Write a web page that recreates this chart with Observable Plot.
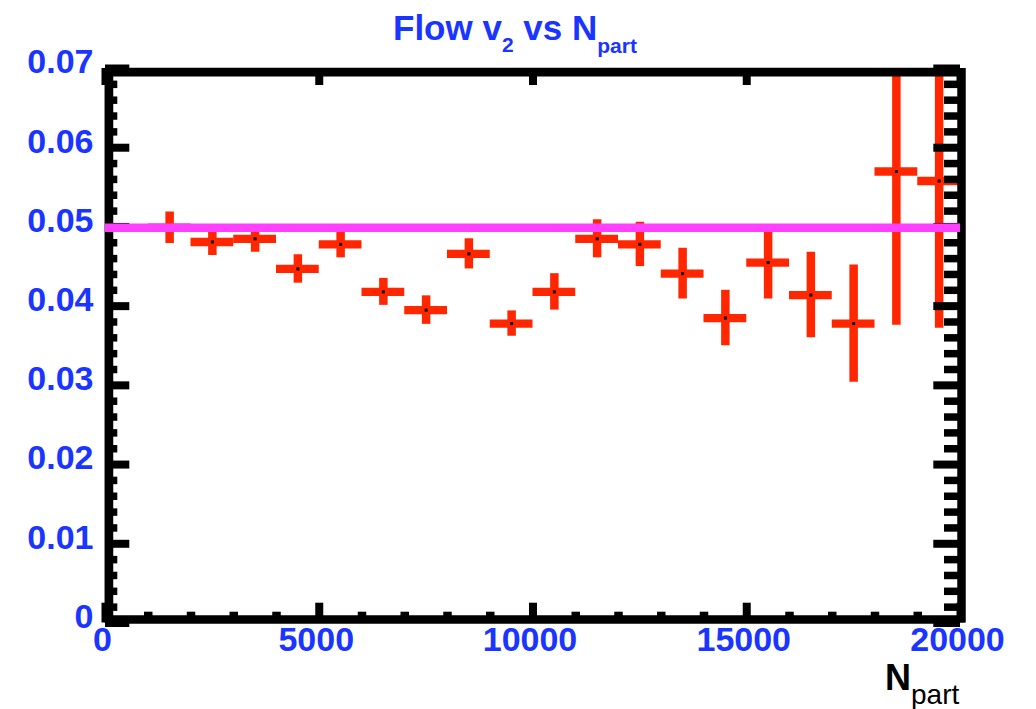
<!DOCTYPE html>
<html>
<head>
<meta charset="utf-8">
<script src="https://cdn.jsdelivr.net/npm/d3@7"></script>
<script src="https://cdn.jsdelivr.net/npm/@observablehq/plot@0.6"></script>
<style>
  body { margin: 0; background: #fff; }
  #chart svg { display: block; }
</style>
</head>
<body>
<div id="chart"></div>
<script>
// ---- data ----
const binCenters = [1500, 2500, 3500, 4500, 5500, 6500, 7500, 8500, 9500, 10500,
                    11500, 12500, 13500, 14500, 15500, 16500, 17500, 18500, 19500];
const v2Values   = [0.0499, 0.0481, 0.0485, 0.0447, 0.0478, 0.0418, 0.0395, 0.0466, 0.0378, 0.0418,
                    0.0485, 0.0478, 0.0441, 0.0385, 0.0455, 0.0414, 0.0378, 0.0570, 0.0558];
const v2Errors   = [0.0020, 0.0017, 0.0017, 0.0018, 0.0017, 0.0017, 0.0018, 0.0019, 0.0016, 0.0023,
                    0.0024, 0.0028, 0.0032, 0.0035, 0.0046, 0.0054, 0.0074, 0.0194, 0.0186];
const binHalfWidths = [500, 500, 500, 500, 500, 500, 500, 500, 500, 500,
                       500, 500, 500, 500, 500, 500, 500, 500, 500];
const fitLevel = [0.0499];

const xTickValues = [0, 5000, 10000, 15000, 20000];
const xTickLabels = ["0", "5000", "10000", "15000", "20000"];
const xMinorTicks = [1000, 2000, 3000, 4000, 6000, 7000, 8000, 9000, 11000, 12000, 13000, 14000,
                     16000, 17000, 18000, 19000];
const yTickValues = [0, 0.01, 0.02, 0.03, 0.04, 0.05, 0.06, 0.07];
const yTickLabels = ["0", "0.01", "0.02", "0.03", "0.04", "0.05", "0.06", "0.07"];
const yMinorTicks = [0.002, 0.004, 0.006, 0.008, 0.012, 0.014, 0.016, 0.018, 0.022, 0.024, 0.026, 0.028,
                     0.032, 0.034, 0.036, 0.038, 0.042, 0.044, 0.046, 0.048, 0.052, 0.054, 0.056, 0.058,
                     0.062, 0.064, 0.066, 0.068];

const titleMain = ["Flow v", "2", " vs N", "part"];
const xLabelParts = ["N", "part"];

// ---- layout ----
const W = 1036, H = 709;
const mL = 105, mR = 76, mT = 68, mB = 86.5;
const FW = W - mL - mR, FH = H - mT - mB;
const BLUE = "#1a35ff", RED = "#ff2600", MAGENTA = "#ff40ff";

const points = binCenters.map((c, i) => ({
  x: c, y: v2Values[i], lo: v2Values[i] - v2Errors[i], hi: v2Values[i] + v2Errors[i],
  x1: c - binHalfWidths[i], x2: c + binHalfWidths[i]
}));
const xTicks = xTickValues.map((v, i) => ({v, label: xTickLabels[i]}));
const yTicks = yTickValues.map((v, i) => ({v, label: yTickLabels[i]}));

const fontBase = {fontFamily: "Liberation Sans, Arial, sans-serif", fontWeight: "bold", fontSize: 34, fill: BLUE};

const chart = Plot.plot({
  width: W, height: H,
  marginLeft: mL, marginRight: mR, marginTop: mT, marginBottom: mB,
  x: {domain: [0, 20000], axis: null},
  y: {domain: [0, 0.07], axis: null},
  style: {background: "#fff", overflow: "visible"},
  marks: [
    // error bars
    Plot.ruleX(points, {x: "x", y1: "lo", y2: "hi", stroke: RED, strokeWidth: 8.5, clip: true}),
    Plot.ruleY(points, {y: "y", x1: "x1", x2: "x2", stroke: RED, strokeWidth: 8.3, clip: true}),
    Plot.dot(points, {x: "x", y: "y", symbol: "square", r: 1.7, fill: "#000", stroke: null}),
    // ticks: left
    Plot.tickY(yMinorTicks, {y: d => d, stroke: "#000", strokeWidth: 7.5, insetRight: FW - 12.3}),
    Plot.tickY(yTickValues, {y: d => d, stroke: "#000", strokeWidth: 8, insetRight: FW - 24.3}),
    // ticks: right
    Plot.tickY(yMinorTicks, {y: d => d, stroke: "#000", strokeWidth: 7.5, insetLeft: FW - 16}),
    Plot.tickY(yTickValues, {y: d => d, stroke: "#000", strokeWidth: 8, insetLeft: FW - 26.7}),
    // ticks: bottom
    Plot.tickX(xMinorTicks, {x: d => d, stroke: "#000", strokeWidth: 8.5, insetTop: FH - 10.8}),
    Plot.tickX(xTickValues, {x: d => d, stroke: "#000", strokeWidth: 8, insetTop: FH - 19.8}),
    // ticks: top
    Plot.tickX(xTickValues, {x: d => d, stroke: "#000", strokeWidth: 8, insetBottom: FH - 17}),
    // frame
    Plot.ruleX([0], {stroke: "#000", strokeWidth: 8.7, dx: 3.4}),
    Plot.ruleX([20000], {stroke: "#000", strokeWidth: 8.5, dx: 1}),
    Plot.ruleY([0], {stroke: "#000", strokeWidth: 8.5, dy: -3.5}),
    Plot.ruleY([0.07], {stroke: "#000", strokeWidth: 8.7, dy: 3.7}),
    // fit line
    Plot.ruleY(fitLevel, {stroke: MAGENTA, strokeWidth: 8.4}),
    // tick labels
    Plot.text(yTicks, {y: "v", text: "label", frameAnchor: "left", textAnchor: "end",
      lineAnchor: "middle", dx: -12, dy: -6, ...fontBase}),
    Plot.text(xTicks, {x: "v", text: "label", frameAnchor: "bottom", textAnchor: "middle",
      lineAnchor: "top", dx: -3, dy: 3.5, ...fontBase})
  ]
});

document.getElementById("chart").appendChild(chart);

const svg = d3.select(chart);
// title
const t = svg.append("text")
  .attr("x", 393).attr("y", 40)
  .attr("text-anchor", "start")
  .attr("font-family", "Liberation Sans, Arial, sans-serif")
  .attr("font-weight", "bold").attr("font-size", 35).attr("fill", BLUE);
t.append("tspan").text(titleMain[0]);
t.append("tspan").attr("font-size", 21).attr("dy", 12).text(titleMain[1]);
t.append("tspan").attr("font-size", 35).attr("dy", -12).text(titleMain[2]);
t.append("tspan").attr("font-size", 21).attr("dy", 13).text(titleMain[3]);

// x axis label
const xl = svg.append("text")
  .attr("x", 885).attr("y", 690)
  .attr("text-anchor", "start")
  .attr("font-family", "Liberation Sans, Arial, sans-serif")
  .attr("fill", "#000");
xl.append("tspan").attr("font-size", 36).attr("font-weight", "bold").text(xLabelParts[0]);
xl.append("tspan").attr("font-size", 28).attr("font-weight", "normal").attr("dy", 14).text(xLabelParts[1]);
</script>
</body>
</html>
